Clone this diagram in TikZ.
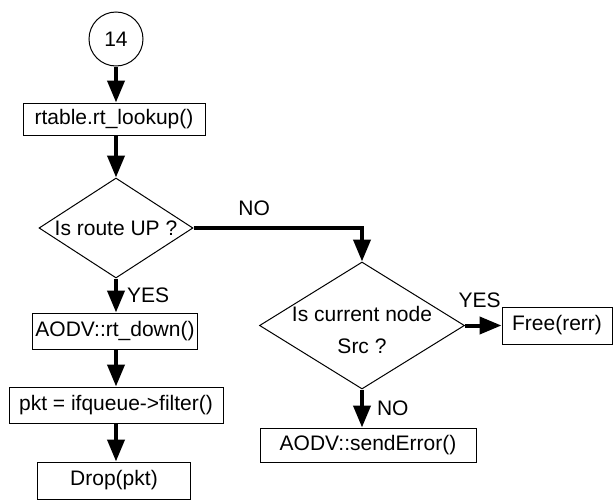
\documentclass[tikz,border=0pt]{standalone}
\usepackage{fontspec}
\setmainfont{Liberation Sans}
\usetikzlibrary{arrows.meta,shapes.geometric}

\begin{document}
\begin{tikzpicture}[
  x=1pt, y=-1pt,
  font=\fontsize{21}{25}\selectfont,
  proc/.style={rectangle, draw=black, line width=1pt, inner sep=0pt},
  cond/.style={diamond, draw=black, line width=1pt, inner sep=0pt},
  conn/.style={circle, draw=black, line width=1pt, minimum size=54pt, inner sep=0pt},
  flow/.style={-{Triangle[length=22pt,width=17pt]}, line width=4pt},
  lab/.style={inner sep=1pt},
]
\useasboundingbox (0,0) rectangle (614,501);

% two columns: the route-up path on the left, the error path on the right
\def\colL{116}
\def\colR{362}

% left column
\node[conn] (start) at (\colL,39) {14};
\node[proc, minimum width=182pt, minimum height=32pt] (lookup) at (114,119) {rtable.rt\_lookup()};
\node[cond, minimum width=154pt, minimum height=100pt] (up) at (\colL,228)
  {\makebox[0pt]{Is route UP ?}};
\node[proc, minimum width=165pt, minimum height=36pt] (down) at (115,331) {AODV::rt\_down()};
\node[proc, minimum width=214pt, minimum height=36pt] (filter) at (116,405) {pkt = ifqueue->filter()};
\node[proc, minimum width=153pt, minimum height=37pt] (drop) at (114,480.5) {Drop(pkt)};

% right column
\node[cond, minimum width=205pt, minimum height=127pt] (src) at (\colR,325.5)
  {\makebox[0pt]{\raisebox{-12.5pt}[0pt][0pt]{\begin{tabular}{@{}c@{}}Is current node\\[7pt]Src ?\end{tabular}}}};
\node[proc, minimum width=110pt, minimum height=37pt] (free) at (557,325.5) {Free(rerr)};
\node[proc, minimum width=216pt, minimum height=34pt] (senderr) at (368,445) {AODV::sendError()};

% connectors
\draw[flow] (start.south) -- (start.south |- lookup.north);
\draw[flow] (lookup.south -| up.north) -- (up.north);
\draw[flow] (up.south) -- node[lab, right=8pt] {YES} (up.south |- down.north);
\draw[flow] (down.south -| up.south) -- (up.south |- filter.north);
\draw[flow] (filter.south -| up.south) -- (up.south |- drop.north);
\draw[flow] (up.east) -| node[lab, pos=0.18, above=9pt] {NO} (src.north);
\draw[flow] (src.east) -- node[lab, pos=0.4, above=15pt] {YES} (free.west);
\draw[flow] (src.south) -- node[lab, right=12pt] {NO} (src.south |- senderr.north);

\end{tikzpicture}
\end{document}
